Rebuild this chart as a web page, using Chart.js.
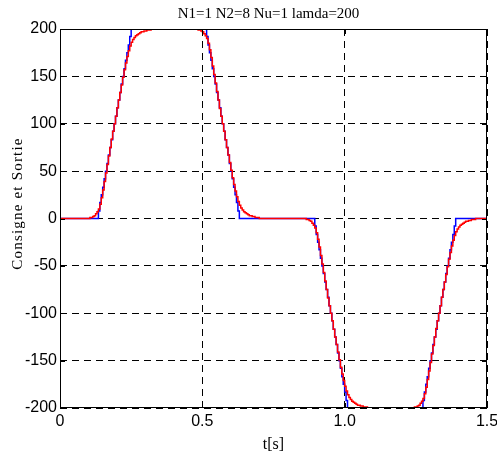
<!DOCTYPE html>
<html>
<head>
<meta charset="utf-8">
<script src="https://cdn.jsdelivr.net/npm/chart.js@4.4.1/dist/chart.umd.min.js"></script>
<style>
  body { margin: 0; background: #fff; }
  #wrap { width: 497px; height: 457px; }
</style>
</head>
<body>
<div id="wrap"><canvas id="chart" width="497" height="457"></canvas></div>
<script>
// sample time of the controller (s)
const dt = 0.005;

// consigne (setpoint), one value per sample
const consigne = [
  // 0 - 0.13
  0, 0, 0, 0, 0, 0, 0, 0, 0, 0, 0, 0, 0, 0, 0, 0, 0, 0, 0, 0, 0, 0, 0, 0, 0, 0, 0,
  // ramp up
  8, 17, 25, 33, 42, 50, 58, 67, 75, 83, 92, 100, 108, 117, 125, 133, 142, 150, 158, 167, 175, 183, 192,
  // 0.25 - 0.51
  200, 200, 200, 200, 200, 200, 200, 200, 200, 200,
  200, 200, 200, 200, 200, 200, 200, 200, 200, 200,
  200, 200, 200, 200, 200, 200, 200, 200, 200, 200,
  200, 200, 200, 200, 200, 200, 200, 200, 200, 200,
  200, 200, 200, 200, 200, 200, 200, 200, 200, 200,
  200, 200, 200,
  // ramp down
  192, 183, 175, 167, 158, 150, 142, 133, 125, 117, 108, 100, 92, 83, 75, 67, 58, 50, 42, 33, 25, 17, 8,
  // 0.63 - 0.89
  0, 0, 0, 0, 0, 0, 0, 0, 0, 0,
  0, 0, 0, 0, 0, 0, 0, 0, 0, 0,
  0, 0, 0, 0, 0, 0, 0, 0, 0, 0,
  0, 0, 0, 0, 0, 0, 0, 0, 0, 0,
  0, 0, 0, 0, 0, 0, 0, 0, 0, 0,
  0, 0, 0,
  // ramp down
  -8, -17, -25, -33, -42, -50, -58, -67, -75, -83, -92, -100, -108, -117, -125, -133, -142, -150, -158, -167, -175, -183, -192,
  // 1.01 - 1.27
  -200, -200, -200, -200, -200, -200, -200, -200, -200, -200,
  -200, -200, -200, -200, -200, -200, -200, -200, -200, -200,
  -200, -200, -200, -200, -200, -200, -200, -200, -200, -200,
  -200, -200, -200, -200, -200, -200, -200, -200, -200, -200,
  -200, -200, -200, -200, -200, -200, -200, -200, -200, -200,
  -200, -200, -200,
  // ramp up
  -192, -183, -175, -167, -158, -150, -142, -133, -125, -117, -108, -100, -92, -83, -75, -67, -58, -50, -42, -33, -25, -17, -8,
  // 1.39 - 1.5
  0, 0, 0, 0, 0, 0, 0, 0, 0, 0, 0, 0, 0, 0, 0, 0, 0, 0, 0, 0, 0, 0, 0
];

// sortie (plant output), one value per sample
const sortie = [
  // 0 - 0.10
  0, 0, 0, 0, 0, 0, 0, 0, 0, 0, 0, 0, 0, 0, 0, 0, 0, 0, 0, 0, 0,
  1, 1, 2, 3, 5, 7, 10, 15, 22, 30, 39, 48, 57, 66, 75, 84, 92, 100, 108, 117, 125, 133,
  141, 149, 157, 164, 171, 177, 182, 186, 189, 191, 193, 194, 195, 196, 197, 197, 198, 198, 199, 199, 199, 200,
  200, 200, 200, 200, 200, 200, 200, 200, 200, 200,
  200, 200, 200, 200, 200, 200, 200, 200, 200, 200,
  200, 200, 200, 200, 200, 200, 200, 200, 200, 200,
  200, 200,
  199, 199, 198, 197, 195, 193, 190, 185, 178, 170, 161, 152, 143, 134, 125, 116, 108, 100, 92, 83, 75, 67,
  59, 51, 43, 36, 29, 23, 18, 14, 11, 9, 7, 6, 5, 4, 3, 3, 2, 2, 1, 1, 1, 0,
  0, 0, 0, 0, 0, 0, 0, 0, 0, 0,
  0, 0, 0, 0, 0, 0, 0, 0, 0, 0,
  0, 0, 0, 0, 0, 0, 0, 0, 0, 0,
  0, 0,
  -1, -1, -2, -3, -5, -7, -10, -15, -22, -30, -39, -48, -57, -66, -75, -84, -92, -100, -108, -117, -125, -133,
  -141, -149, -157, -164, -171, -177, -182, -186, -189, -191, -193, -194, -195, -196, -197, -197, -198, -198, -199, -199, -199, -200,
  -200, -200, -200, -200, -200, -200, -200, -200, -200, -200,
  -200, -200, -200, -200, -200, -200, -200, -200, -200, -200,
  -200, -200, -200, -200, -200, -200, -200, -200, -200, -200,
  -200, -200,
  -199, -199, -198, -197, -195, -193, -190, -185, -178, -170, -161, -152, -143, -134, -125, -116, -108, -100, -92, -83, -75, -67,
  -59, -51, -43, -36, -29, -23, -18, -14, -11, -9, -7, -6, -5, -4, -3, -3, -2, -2, -1, -1, -1, 0,
  0, 0, 0, 0, 0, 0, 0, 0
];

const xTicks = [0, 0.5, 1, 1.5];
const yTicks = [-200, -150, -100, -50, 0, 50, 100, 150, 200];

const titleText = "N1=1 N2=8 Nu=1 lamda=200";
const xTitle = "t[s]";
const yTitle = "Consigne et Sortie";

const tickFont = { family: "'Liberation Sans', Arial, sans-serif", size: 16 };
const serif = "'Liberation Serif', 'Times New Roman', serif";

function toPoints(values) {
  return values.map((v, i) => ({ x: +(i * dt).toFixed(3), y: v }));
}

// frame with inward ticks, matlab style, plus the title and the spaced y label
const framePlugin = {
  id: 'frame',
  afterDatasetsDraw(chart) {
    const { ctx, chartArea: a, scales } = chart;
    ctx.save();
    ctx.strokeStyle = '#000';
    ctx.lineWidth = 1;
    ctx.setLineDash([]);
    ctx.strokeRect(a.left + 0.5, a.top + 0.5, a.right - a.left - 1, a.bottom - a.top - 1);
    ctx.beginPath();
    yTicks.forEach(v => {
      const y = Math.round(scales.y.getPixelForValue(v)) + 0.5;
      ctx.moveTo(a.left, y); ctx.lineTo(a.left + 5, y);
      ctx.moveTo(a.right, y); ctx.lineTo(a.right - 5, y);
    });
    xTicks.forEach(v => {
      const x = Math.round(scales.x.getPixelForValue(v)) + 0.5;
      ctx.moveTo(x, a.bottom); ctx.lineTo(x, a.bottom - 5);
      ctx.moveTo(x, a.top); ctx.lineTo(x, a.top + 5);
    });
    ctx.stroke();

    ctx.fillStyle = '#000';
    ctx.font = '15px ' + serif;
    ctx.textAlign = 'center';
    ctx.textBaseline = 'middle';
    ctx.fillText(titleText, (a.left + a.right) / 2 - 5, 14);

    // y label: letter-spaced like the original
    ctx.translate(18, (a.top + a.bottom) / 2 - 15);
    ctx.rotate(-Math.PI / 2);
    ctx.font = '15px ' + serif;
    if ('letterSpacing' in ctx) ctx.letterSpacing = '1.2px';
    ctx.fillText(yTitle, 0, 0);
    ctx.restore();
  }
};

new Chart(document.getElementById('chart'), {
  type: 'line',
  data: {
    datasets: [
      {
        label: 'Sortie',
        data: toPoints(sortie),
        borderColor: '#ff0000',
        borderWidth: 1.5,
        pointRadius: 0,
        stepped: true,
        order: 0
      },
      {
        label: 'Consigne',
        data: toPoints(consigne),
        borderColor: '#0000ff',
        borderWidth: 1.5,
        pointRadius: 0,
        stepped: true,
        order: 1
      }
    ]
  },
  options: {
    responsive: false,
    animation: false,
    layout: { padding: { top: 29, right: 10, left: 0, bottom: 0 } },
    plugins: {
      legend: { display: false },
      tooltip: { enabled: false }
    },
    scales: {
      x: {
        type: 'linear',
        min: 0,
        max: 1.5,
        afterFit(scale) {
          scale.height = 49;
          scale.paddingLeft = 0;
          scale.paddingRight = 0;
        },
        afterBuildTicks(scale) { scale.ticks = xTicks.map(v => ({ value: v })); },
        ticks: { color: '#000', font: tickFont, padding: 4, maxRotation: 0 },
        grid: { color: '#000', lineWidth: 1, drawTicks: false },
        border: { display: false, dash: [7, 5] },
        title: { display: true, text: xTitle, color: '#000', font: { family: serif, size: 16 }, padding: { top: 2, bottom: 3 } }
      },
      y: {
        min: -200,
        max: 200,
        afterFit(scale) {
          scale.width = 60;
          scale.paddingTop = 0;
          scale.paddingBottom = 0;
        },
        afterBuildTicks(scale) { scale.ticks = yTicks.map(v => ({ value: v })); },
        ticks: { color: '#000', font: tickFont, padding: 3 },
        grid: { color: '#000', lineWidth: 1, drawTicks: false },
        border: { display: false, dash: [7, 5] },
        title: { display: false }
      }
    }
  },
  plugins: [framePlugin]
});
</script>
</body>
</html>
